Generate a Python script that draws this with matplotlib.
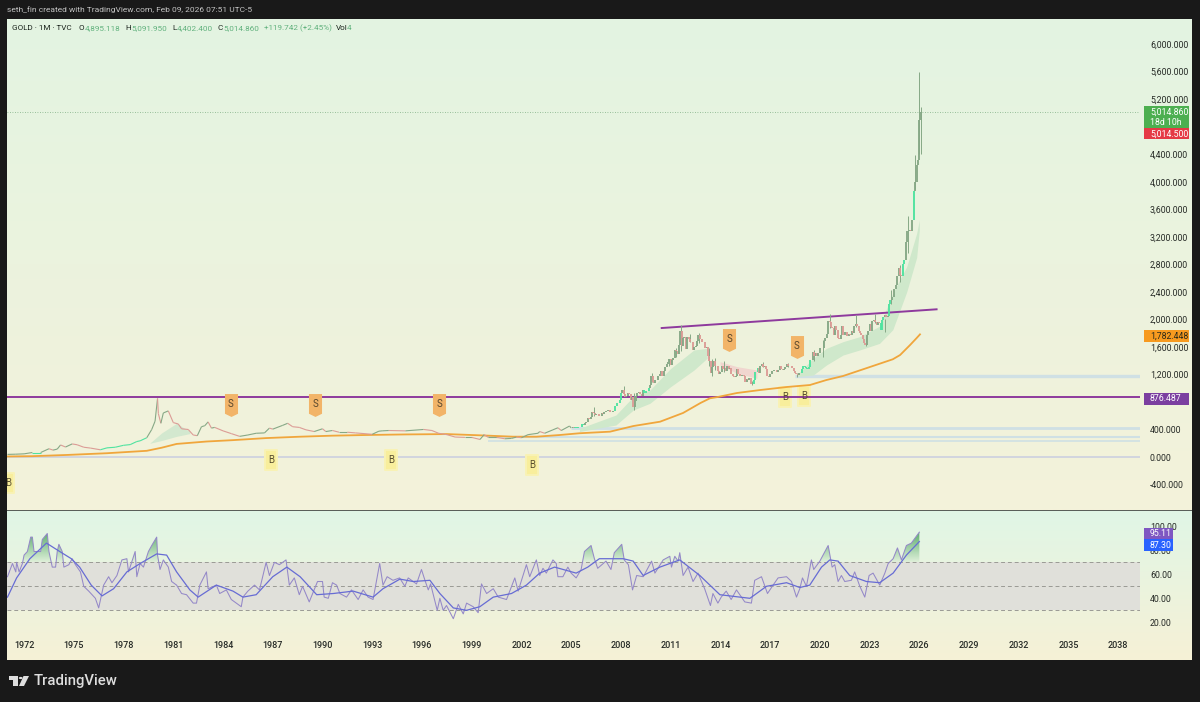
import numpy as np
import matplotlib
matplotlib.use("Agg")
import matplotlib.pyplot as plt
from matplotlib.collections import LineCollection
from matplotlib.patches import Rectangle, Polygon, Circle
from matplotlib.path import Path

plt.rcParams['font.family'] = ['Roboto', 'DejaVu Sans']

# ---------- data: sparse early price path (year, close) ----------
early_years = [1971.0,1971.5,1972.0,1972.5,1973.0,1973.5,1973.75,1974.0,1974.2,1974.5,1974.9,1975.2,1975.6,1976.0,1976.6,1977.0,1977.5,1978.0,1978.4,1978.8,1979.0,1979.4,1979.7,1979.9,1980.05,1980.1,1980.25,1980.4,1980.7,1981.0,1981.3,1981.5,1981.9,1982.2,1982.45,1982.7,1982.9,1983.1,1983.3,1983.5,1984.0,1984.5,1985.0,1985.5,1986.0,1986.5,1986.8,1987.0,1987.6,1987.9,1988.2,1988.6,1989.0,1989.5,1990.0,1990.2,1990.6,1991.0,1991.5,1992.0,1993.0,1993.4,1993.6,1994.0,1995.0,1996.1,1996.6,1997.0,1997.5,1998.0,1998.6,1999.0,1999.5,1999.75,2000.0,2000.5,2001.0,2001.4,2001.7,2002.0,2002.4,2003.0,2003.1,2003.4,2003.9,2004.2,2004.4,2004.9]
early_close = [38,41,46,65,65,120,100,115,175,145,190,178,142,130,105,133,142,170,180,225,235,280,400,520,850,630,490,640,670,500,480,410,400,320,310,440,455,510,420,430,380,340,300,320,345,350,420,405,460,490,440,430,395,370,410,370,385,360,360,350,330,375,380,385,380,400,385,345,325,290,285,285,255,325,285,285,265,270,290,280,325,345,370,345,395,425,385,450]

# ---------- data: monthly closes from 2005 ----------
monthly_start_year = 2005
monthly_close = [
422,435,428,435,417,436,429,433,473,459,495,513,
569,556,582,654,643,613,632,623,599,603,646,632,
650,664,662,680,655,650,666,672,743,789,783,834,
925,975,916,870,885,925,912,831,871,725,815,880,
927,942,916,884,978,927,955,955,1007,1040,1179,1097,
1081,1118,1115,1180,1212,1244,1181,1248,1307,1357,1386,1421,
1332,1409,1439,1556,1536,1500,1628,1826,1620,1722,1746,1566,
1737,1710,1669,1664,1560,1598,1610,1690,1773,1719,1714,1675,
1664,1578,1598,1472,1393,1224,1313,1396,1327,1323,1253,1202,
1240,1322,1284,1296,1246,1327,1282,1287,1210,1171,1167,1184,
1278,1213,1183,1184,1190,1172,1095,1132,1115,1142,1065,1061,
1118,1238,1233,1292,1215,1320,1349,1306,1316,1272,1172,1159,
1211,1249,1249,1268,1268,1241,1269,1321,1280,1271,1275,1303,
1345,1318,1325,1315,1298,1253,1223,1201,1192,1214,1222,1281,
1321,1313,1292,1283,1305,1409,1413,1520,1472,1513,1464,1517,
1589,1585,1577,1686,1730,1780,1975,1967,1886,1879,1777,1898,
1847,1734,1708,1769,1907,1770,1814,1814,1757,1783,1774,1829,
1797,1909,1937,1897,1837,1807,1766,1711,1661,1633,1768,1824,
1928,1827,1969,1990,1962,1919,1965,1940,1849,1984,2036,2063,
2039,2044,2230,2286,2327,2327,2447,2503,2635,2744,2643,2624,
2798,2858,3124,3288,3289,3303,3290,3447,3858,4002,4239,4319,
4895,5015]

wick_years = [2006.37,2008.2,2008.8,2009.9,2010.9,2011.35,2011.65,2012.15,2012.72,2013.3,2013.5,2013.65,2014.2,2015.9,2016.55,2018.1,2018.65,2019.65,2020.2,2020.6,2022.2,2022.8,2023.35,2023.9,2024.3,2024.83,2025.3,2025.75,2026.0,2026.08]
wick_low = [600,880,681,1090,1320,1460,1535,1670,1660,1320,1180,1270,1240,1046,1310,1305,1160,1400,1450,1880,1890,1615,1950,1810,2220,2540,2970,3890,4400,4402]
wick_high = [730,1033,930,1227,1430,1577,1921,1790,1795,1590,1420,1433,1390,1110,1375,1366,1225,1557,1705,2075,2070,1730,2080,2010,2430,2790,3500,4381,5595,5092]

bright_spans = [(1972.6,1973.3),(1976.8,1979.6),(2005.2,2005.8),(2007.6,2008.0),(2009.4,2009.7),(2016.0,2016.3),(2018.9,2019.5),(2023.65,2023.85),(2024.15,2024.25),(2024.95,2025.1),(2025.6,2025.7)]

# ---------- data: moving average ----------
ma_years = [1971.0,1972.5,1974.6,1977.0,1979.4,1980.3,1981.2,1983.0,1984.6,1986.6,1988.65,1990.6,1992.7,1995.0,1997.5,1999.5,2001.5,2002.9,2004.33,2005.5,2007.34,2008.75,2010.36,2011.75,2012.8,2013.37,2013.8,2015.0,2016.39,2018.0,2019.4,2020.4,2021.4,2022.8,2024.4,2024.84,2025.44,2025.84,2026.04]
ma_values = [8,12,30,55,90,135,190,225,245,275,295,310,320,328,333,315,295,295,320,345,368,450,513,640,785,853,870,930,973,1017,1046,1119,1177,1290,1420,1482,1627,1729,1782]

# ---------- data: ribbons ----------
rib1_years = [2005.5,2007.7,2008.75,2009.75,2011.0,2012.4,2013.2]
rib1_low = [370,465,683,780,1022,1262,1434]
rib1_high = [416,610,877,973,1286,1555,1579]
rib2_years = [2018.6,2019.6,2020.4,2021.4,2022.4,2023.6,2024.4,2025.24,2025.84,2026.0]
rib2_low = [1170,1191,1337,1482,1555,1651,1850,2400,2900,3300]
rib2_high = [1190,1434,1579,1676,1748,1900,2382,2765,3250,3443]
rib3_years = [1979.6,1980.3,1981.2,1982.0]
rib3_low = [200,240,300,340]
rib3_high = [205,350,490,370]
pink_years = [2013.98,2015.0,2016.2]
pink_low = [1337,1216,1143]
pink_high = [1385,1313,1264]

# ---------- data: levels, trend line, signals ----------
resist_level = 876.487
last_price = 5014.86
trend_years = [2010.46,2027.04]
trend_prices = [1874,2146]
zones = [(2005.0,417),(2000.0,295),(2000.0,228),(1971.0,5),(2018.5,1177)]
sell_years = [1984.48,1989.55,1997.03,2014.52,2018.62]
sell_prices = [755,755,755,1700,1598]
buy_years = [1986.9,1994.13,2002.64,2017.9,2019.05,1971.03]
buy_prices = [-44,-44,-116,872,886,-378]

# ---------- data: RSI ----------
rsi_years = [1971.0,1971.3,1971.5,1971.55,1971.7,1971.9,1972.0,1972.2,1972.4,1972.5,1972.6,1973.0,1973.1,1973.4,1973.5,1973.7,1973.9,1974.0,1974.1,1974.3,1974.4,1974.7,1974.9,1975.1,1975.4,1975.6,1975.9,1976.3,1976.5,1976.8,1977.1,1977.3,1977.6,1977.9,1978.2,1978.3,1978.7,1978.8,1979.0,1979.2,1979.5,1979.7,1980.0,1980.05,1980.2,1980.4,1980.7,1980.9,1981.2,1981.5,1981.8,1982.2,1982.4,1982.6,1983.0,1983.1,1983.6,1983.8,1984.2,1984.5,1985.1,1985.2,1985.5,1985.9,1986.2,1986.6,1986.8,1987.1,1987.4,1987.8,1988.0,1988.3,1988.6,1988.8,1989.2,1989.7,1990.0,1990.1,1990.35,1990.6,1990.85,1991.05,1991.45,1991.75,1992.15,1992.45,1992.75,1993.05,1993.45,1993.65,1993.9,1994.25,1994.65,1994.97,1995.17,1995.67,1995.97,1996.18,1996.38,1996.52,1996.92,1997.08,1997.28,1997.48,1997.89,1998.19,1998.49,1998.69,1999.09,1999.39,1999.59,1999.9,2000.3,2000.6,2001.1,2001.6,2001.8,2002.3,2002.5,2002.9,2003.1,2003.3,2003.5,2003.9,2004.1,2004.2,2004.5,2004.8,2005.0,2005.3,2005.6,2005.8,2006.2,2006.4,2006.6,2007.1,2007.4,2007.6,2008.05,2008.2,2008.45,2008.7,2008.95,2009.35,2009.85,2010.05,2010.55,2010.95,2011.05,2011.25,2011.45,2011.55,2011.75,2012.05,2012.35,2012.65,2013.05,2013.4,2013.55,2013.85,2014.05,2014.35,2014.65,2014.97,2015.47,2015.87,2016.07,2016.48,2016.84,2017.18,2017.48,2017.99,2018.29,2018.59,2018.79,2018.95,2019.19,2019.49,2019.63,2020.0,2020.5,2020.74,2020.9,2021.1,2021.3,2021.5,2021.9,2022.1,2022.41,2022.71,2022.97,2023.21,2023.61,2023.92,2024.12,2024.42,2024.68,2024.92,2025.22,2025.52,2026.0]
rsi_values = [58,69,62,70,62,69,76,79,91,91,79,79,89,94,79,66,66,79,85,79,66,68,73,68,62,50,46,40,32,51,58,53,59,72,73,62,79,58,69,66,79,84,91,76,64,72,66,54,51,44,43,36,36,51,62,48,51,44,47,39,33,41,46,51,47,70,59,70,68,72,51,57,43,50,37,54,54,41,40,53,51,44,41,47,39,47,41,39,69,51,58,55,57,50,57,52,64,55,47,52,30,40,30,34,23,35,27,36,33,28,52,44,48,41,39,57,46,68,58,72,59,65,61,72,69,58,58,66,61,57,64,79,84,73,65,71,64,78,85,72,68,47,59,58,71,61,72,75,66,75,71,78,59,66,54,61,48,34,44,36,41,46,39,47,37,36,55,58,44,51,57,58,54,41,48,57,50,72,64,71,84,66,68,54,59,54,55,62,50,41,59,61,51,61,69,73,82,72,84,86,95.11]
signal_years = [1971.0,1971.55,1972.35,1973.35,1974.15,1974.85,1975.35,1976.05,1976.7,1977.4,1978.2,1979.0,1980.0,1980.6,1981.2,1982.0,1982.5,1983.6,1984.6,1985.2,1986.0,1987.0,1987.85,1988.65,1989.65,1990.65,1991.85,1993.05,1993.65,1994.67,1995.47,1996.48,1997.08,1997.89,1998.69,1999.49,2000.3,2001.4,2002.3,2003.1,2004.0,2005.3,2006.0,2006.7,2008.14,2008.74,2009.34,2010.35,2011.55,2012.76,2013.97,2015.78,2016.78,2017.99,2018.79,2019.39,2020.1,2020.6,2021.1,2021.8,2022.81,2023.61,2024.42,2025.22,2026.0]
signal_values = [41,57,73,86,79,73,66,51,42,48,62,69,77,76,62,47,41,51,46,41,43,58,66,58,43,44,46,41,48,56,54,55,44,32,30,33,41,44,51,61,66,61,66,73,73,71,59,66,72,59,43,40,50,53,49,51,66,72,71,59,54,53,61,76,87.3]

# ---------- axis labels ----------
price_ticks = [6000,5600,5200,4400,4000,3600,3200,2800,2400,2000,1600,1200,400,0,-400]
rsi_ticks = [100,80,60,40,20]
year_ticks = list(range(1972,2039,3))
rsi_bands = [70,50,30]

# ---------- figure helpers ----------
W, H = 1200, 702
fig = plt.figure(figsize=(W/100, H/100), dpi=100, facecolor='#191919')
def box(l, t, r, b):
    return [l/W, 1-b/H, (r-l)/W, (b-t)/H]
def ftext(x, y, s, **kw):
    kw.setdefault('va', 'center')
    kw.setdefault('ha', 'left')
    return fig.text(x/W, 1-y/H, s, **kw)
def frect(l, t, r, b, color, z=5):
    fig.add_artist(Rectangle((l/W, 1-b/H), (r-l)/W, (b-t)/H, transform=fig.transFigure, fc=color, ec='none', zorder=z))

def gradient_bg(rect, top, bottom):
    a = fig.add_axes(rect, zorder=0)
    a.axis('off')
    c0, c1 = np.array(matplotlib.colors.to_rgb(top)), np.array(matplotlib.colors.to_rgb(bottom))
    t = np.linspace(0, 1, 256)[:, None, None]
    a.imshow(c0*(1-t)+c1*t, aspect='auto', interpolation='bilinear')

gradient_bg(box(7, 19, 1192, 510), '#e3f4e2', '#f4f2da')
gradient_bg(box(7, 511, 1192, 660), '#e0f6e6', '#f6f1d6')

ax = fig.add_axes(box(7, 19, 1140, 510), zorder=2)
rx = fig.add_axes(box(7, 511, 1140, 660), zorder=2, sharex=ax)
for a in (ax, rx):
    a.patch.set_alpha(0)
    for s in a.spines.values():
        s.set_visible(False)
    a.yaxis.tick_right()
    a.tick_params(length=0, labelsize=6.35, labelcolor='#262a26', pad=7.2)
ax.set_xlim(1970.97, 2039.31)
ax.set_ylim(-770, 6364)
rx.set_ylim(-11.4, 112.75)

# ---------- main pane ----------
ax.set_yticks(price_ticks)
ax.set_yticklabels([f"{v:,.3f}" for v in price_ticks])
ax.tick_params(axis='x', labelbottom=False)
ax.axhline(last_price, color='#7fae84', lw=0.6, ls=(0, (1, 2)), zorder=1)

for (yr, level), lw in zip([zones[0], zones[1], zones[2], zones[4]], [2.0, 1.5, 1.2, 2.4]):
    ax.plot([yr, 2039.31], [level, level], color='#cfe0e4', lw=lw, solid_capstyle='butt', zorder=1)
ax.plot([zones[3][0], 2039.31], [zones[3][1], zones[3][1]], color='#c9cde0', lw=1.1, zorder=1)

ax.fill_between(rib1_years, rib1_low, rib1_high, color='#cfe8cb', lw=0, zorder=1.5)
ax.fill_between(rib2_years, rib2_low, rib2_high, color='#cfe8cb', lw=0, zorder=1.5)
ax.fill_between(rib3_years, rib3_low, rib3_high, color='#d3e8cf', lw=0, zorder=1.5)
ax.fill_between(pink_years, pink_low, pink_high, color='#f0d6cf', lw=0, zorder=1.5)

ax.axhline(resist_level, color='#8e3a9d', lw=1.4, zorder=3)
ax.plot(trend_years, trend_prices, color='#8e3a9d', lw=1.4, zorder=3)
ax.plot(ma_years, ma_values, color='#f0a63c', lw=1.3, zorder=3.5)

UP, DOWN, BRIGHT = '#86a886', '#dc9c96', '#4fe3a0'
def colour(year, o, c):
    for a, b in bright_spans:
        if a <= year <= b:
            return BRIGHT
    return UP if c >= o else DOWN

segs, cols = [], []
for i in range(1, len(early_years)):
    segs.append([(early_years[i-1], early_close[i-1]), (early_years[i], early_close[i])])
    cols.append(colour(early_years[i], early_close[i-1], early_close[i]))
first_month = monthly_start_year
segs.append([(early_years[-1], early_close[-1]), (first_month, monthly_close[0])])
cols.append(UP)
ax.add_collection(LineCollection(segs, colors=cols, linewidths=0.8, zorder=4))

m_years = first_month + np.arange(len(monthly_close))/12
m_open = np.r_[monthly_close[0], monthly_close[:-1]]
m_cols = [colour(y, o, c) for y, o, c in zip(m_years, m_open, monthly_close)]
ax.vlines(wick_years, wick_low, wick_high, color='#86a886', lw=0.7, zorder=4)
ax.vlines(m_years, m_open, monthly_close, colors=m_cols, lw=1.35, zorder=4.2)

# signal tags: pointed label for sells, soft block for buys
sell_shape = Path([(-0.57, 1), (0.57, 1), (0.57, -0.72), (0, -1), (-0.57, -0.72), (-0.57, 1)], closed=True)
buy_shape = Path([(-0.62, 1), (0.62, 1), (0.62, -1), (-0.62, -1), (-0.62, 1)], closed=True)
ax.plot(sell_years, sell_prices, ls='none', marker=sell_shape, ms=16.5, color='#f2b468', mew=0, zorder=5)
for x, y in zip(sell_years, sell_prices):
    ax.text(x, y+20, 'S', ha='center', va='center', fontsize=7, color='#55452c', zorder=5.5)
ax.plot(buy_years, buy_prices, ls='none', marker=buy_shape, ms=14, color='#f8ee9c', mew=1.4, mec='#f9f2b4', zorder=2.8)
for x, y in zip(buy_years, buy_prices):
    ax.text(x, y, 'B', ha='center', va='center', fontsize=7, color='#5a5030', zorder=3.6, clip_on=True)

# ---------- RSI pane ----------
rx.axhspan(rsi_bands[-1], rsi_bands[0], color='#e0e0da', lw=0, zorder=0.5)
for v in rsi_bands:
    rx.axhline(v, color='#9a9a94', lw=0.7, ls=(0, (4, 3)), zorder=1)
r_fill = rx.fill_between(rsi_years, 70, rsi_values, where=np.array(rsi_values) >= 70, interpolate=True, color='none', lw=0)
rgba = np.zeros((256, 1, 4))
rgba[..., 0], rgba[..., 1], rgba[..., 2] = 0.25, 0.62, 0.32
rgba[..., 3] = np.linspace(0.9, 0.05, 256)[:, None]
im = rx.imshow(rgba, extent=(1970.97, 2039.31, 70, 97), aspect='auto', zorder=1.5, origin='upper')
im.set_clip_path(Path.make_compound_path(*r_fill.get_paths()), transform=rx.transData)
rx.plot(rsi_years, rsi_values, color='#9488c8', lw=0.75, zorder=3)
rx.plot(signal_years, signal_values, color='#676cd4', lw=0.9, zorder=3.2)
rx.set_xlim(1970.97, 2039.31)
rx.set_ylim(-11.4, 112.75)
rx.set_yticks(rsi_ticks)
rx.set_yticklabels([f"{v:.2f}" for v in rsi_ticks])
rx.set_xticks(year_ticks)
rx.set_xticklabels([str(y) for y in year_ticks])
rx.tick_params(axis='x', direction='in', pad=-13.5, labelsize=6.5)
for lbl in rx.get_xticklabels():
    lbl.set_fontweight('medium')

# ---------- separator and tags ----------
frect(7, 510, 1192, 511.2, '#5a5f5a', z=3)

def price_tag(t, b, r, fc, s, fs=6.35, tc='white'):
    frect(1144, t, r, b, fc, z=6)
    ftext(1150, (t+b)/2, s, color=tc, fontsize=fs, zorder=7)
price_tag(106.5, 128.3, 1189, '#4caf50', f"{last_price:,.3f}\n18d 10h")
price_tag(128.3, 139.3, 1189, '#e53945', "5,014.500")
price_tag(330, 341.7, 1189, '#f79a1f', "1,782.448", tc='#2a2a1a')
price_tag(392.5, 404.5, 1189, '#7b3fa0', f"{resist_level:,.3f}")
price_tag(527.7, 539.3, 1173, '#7e57c2', "95.11")
price_tag(539.3, 550.7, 1173, '#2962ff', "87.30")

# ---------- header ----------
ftext(7, 10, "seth_fin created with TradingView.com, Feb 09, 2026 07:51 UTC-5", color='#c4c4c4', fontsize=6.05)
GREEN, DARK = '#62b27e', '#1c251e'
legend_x = [12, 79, 85, 125, 131, 172, 177, 218, 223, 264, 336, 347]
legend_s = ["GOLD · 1M · TVC", "O", "4,895.118", "H", "5,091.950", "L", "4,402.400", "C", "5,014.860", "+119.742 (+2.45%)", "Vol", "4"]
legend_c = [DARK, DARK, GREEN, DARK, GREEN, DARK, GREEN, DARK, GREEN, GREEN, DARK, GREEN]
for x, s, c in zip(legend_x, legend_s, legend_c):
    ftext(x, 28.5, s, color=c, fontsize=5.9, zorder=7)

# ---------- footer logo ----------
logo = '#dedede'
frect(8.5, 676, 18, 679.5, logo, z=6)
frect(13, 676, 18, 686, logo, z=6)
fig.add_artist(Circle((20.7/W, 1-678/H), 1.9/W, transform=fig.transFigure, fc=logo, ec='none', zorder=6))
fig.add_artist(Polygon([(23.5/W, 1-676/H), (29/W, 1-676/H), (24/W, 1-686/H), (19/W, 1-686/H)], transform=fig.transFigure, fc=logo, ec='none', zorder=6))
ftext(33.5, 681, "TradingView", color='#dedede', fontsize=10.7, fontweight='medium')

fig.savefig('out.png', dpi=100, facecolor=fig.get_facecolor())
